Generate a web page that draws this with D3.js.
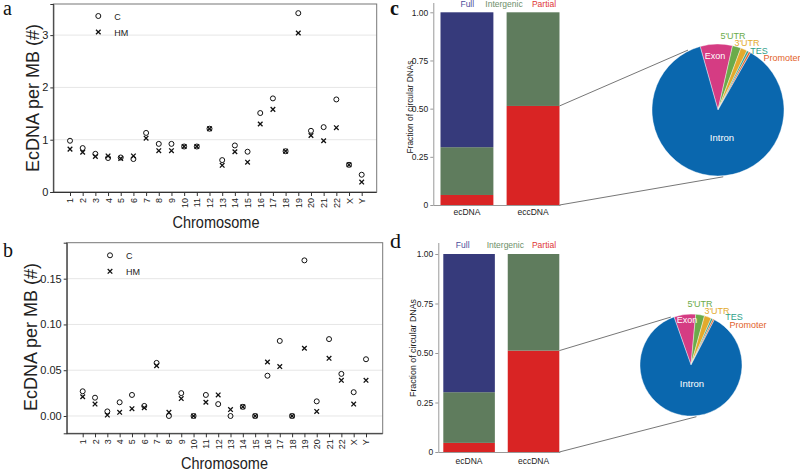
<!DOCTYPE html>
<html>
<head>
<meta charset="utf-8">
<script src="https://cdn.jsdelivr.net/npm/d3@7"></script>
<style>
  body { margin: 0; background: #fff; }
  svg { display: block; font-family: "Liberation Sans", Arial, sans-serif; }
</style>
</head>
<body>
<svg id="fig" width="800" height="471"></svg>
<script>
// ---- data ----
const chromosomes = ['1','2','3','4','5','6','7','8','9','10','11','12','13','14','15','16','17','18','19','20','21','22','X','Y'];

// panel a
const aC  = [0.98,0.84,0.73,0.65,0.66,0.63,1.13,0.92,0.92,0.87,0.87,1.21,0.61,0.89,0.77,1.51,1.79,0.78,3.42,1.17,1.24,1.77,0.52,0.33];
const aHM = [0.82,0.76,0.68,0.69,0.64,0.69,1.03,0.79,0.79,0.87,0.87,1.21,0.51,0.77,0.57,1.30,1.58,0.78,3.04,1.08,0.98,1.23,0.52,0.19];
const aTicks = [0, 1, 2, 3];

// panel b
const bC  = [0.027,0.020,0.005,0.015,0.023,0.011,0.058,0.000,0.025,0.000,0.023,0.013,0.000,0.010,0.000,0.044,0.082,0.000,0.170,0.016,0.084,0.046,0.026,0.062];
const bHM = [0.021,0.013,0.001,0.004,0.008,0.009,0.055,0.004,0.019,0.000,0.015,0.023,0.007,0.010,0.000,0.059,0.054,0.000,0.074,0.005,0.063,0.039,0.013,0.039];
const bTicks = [0, 0.05, 0.10, 0.15];

// panels c / d stacked bars
const barCats = ['ecDNA', 'eccDNA'];
const barKeys = ['Partial', 'Intergenic', 'Full'];
const cPartial = [0.052, 0.514], cIntergenic = [0.248, 0.486], cFull = [0.700, 0];
const dPartial = [0.046, 0.512], dIntergenic = [0.256, 0.488], dFull = [0.698, 0];
const fracTicks = [0, 0.25, 0.5, 0.75, 1];

// pies (percent of partial eccDNA)
const pieLabels = ['Exon', "5'UTR", "3'UTR", 'TES', 'Promoter', 'Intron'];
const cPie = [7.9, 2.1, 1.6, 0.5, 0.5, 87.4];
const dPie = [6.9, 2.8, 2.2, 0.6, 0.5, 87.0];

// ---- styles ----
const barColor = {Partial: '#d92424', Intergenic: '#5f7c5d', Full: '#363a7b'};
const barLabelColor = {Partial: '#e03535', Intergenic: '#6d8f6a', Full: '#4a4d9a'};
const pieColor = {'Exon': '#d53c83', "5'UTR": '#6bab4a', "3'UTR": '#e3aa2c', 'TES': '#2e9f88', 'Promoter': '#e2612a', 'Intron': '#0a67ae'};

const svg = d3.select('#fig');

// panel letters
[['a', 3, 15, 'normal', 20], ['b', 3, 257, 'normal', 20], ['c', 390, 15, 'bold', 20], ['d', 390, 248, 'normal', 22]]
  .forEach(([t, x, y, w, s]) => {
    svg.append('text').attr('x', x).attr('y', y).text(t)
      .attr('font-family', '"Liberation Serif", "Times New Roman", serif')
      .attr('font-weight', w).attr('font-size', s).attr('fill', '#111');
  });

function scatterPanel(cfg) {
  const g = svg.append('g');
  const x = d3.scalePoint().domain(chromosomes).range([cfg.x0, cfg.x1]);
  const y = d3.scaleLinear().domain(cfg.yDomain).range([cfg.bottom, cfg.top]);

  // gridlines
  g.selectAll('.grid').data(cfg.ticks).enter().append('line')
    .attr('x1', cfg.left).attr('x2', cfg.right)
    .attr('y1', d => y(d)).attr('y2', d => y(d))
    .attr('stroke', '#e6e6e6').attr('stroke-width', 1);

  // frame
  g.append('rect').attr('x', cfg.left).attr('y', cfg.top)
    .attr('width', cfg.right - cfg.left).attr('height', cfg.bottom - cfg.top)
    .attr('fill', 'none').attr('stroke', '#777').attr('stroke-width', 1);

  // axes
  const yAxis = g.append('g').attr('transform', `translate(${cfg.left},0)`)
    .call(d3.axisLeft(y).tickValues(cfg.ticks).tickFormat(cfg.fmt).tickSize(3).tickPadding(2));
  yAxis.select('.domain').attr('stroke', '#333');
  yAxis.selectAll('.tick line').attr('stroke', '#333');
  yAxis.selectAll('text').attr('font-size', 11).attr('fill', '#222')
    .attr('font-family', '"Liberation Sans", Arial, sans-serif');

  const xAxis = g.append('g').attr('transform', `translate(0,${cfg.bottom})`)
    .call(d3.axisBottom(x).tickSize(4).tickSizeOuter(0));
  xAxis.select('.domain').attr('stroke', '#333').attr('d', `M${cfg.left},0.5H${cfg.right}`);
  xAxis.selectAll('.tick line').attr('stroke', '#333');
  xAxis.selectAll('text')
    .attr('font-size', 9).attr('fill', '#222')
    .attr('font-family', '"Liberation Sans", Arial, sans-serif')
    .attr('transform', 'rotate(-90)')
    .attr('text-anchor', 'end').attr('x', -6).attr('y', 0).attr('dy', '0.33em');

  // points
  g.selectAll('.c').data(cfg.C).enter().append('circle')
    .attr('cx', (d, i) => x(chromosomes[i])).attr('cy', d => y(d))
    .attr('r', 2.5).attr('fill', 'none').attr('stroke', '#111').attr('stroke-width', 1);
  const s = 2.3;
  g.selectAll('.hm').data(cfg.HM).enter().append('path')
    .attr('d', (d, i) => {
      const cx = x(chromosomes[i]), cy = y(d);
      return `M${cx - s},${cy - s}L${cx + s},${cy + s}M${cx - s},${cy + s}L${cx + s},${cy - s}`;
    })
    .attr('stroke', '#111').attr('stroke-width', 1.3).attr('fill', 'none');

  // legend
  const lg = g.append('g');
  lg.append('circle').attr('cx', cfg.leg[0]).attr('cy', cfg.leg[1])
    .attr('r', 2.5).attr('fill', 'none').attr('stroke', '#111');
  lg.append('path')
    .attr('d', `M${cfg.leg[0] - s},${cfg.leg[1] + 16 - s}L${cfg.leg[0] + s},${cfg.leg[1] + 16 + s}M${cfg.leg[0] - s},${cfg.leg[1] + 16 + s}L${cfg.leg[0] + s},${cfg.leg[1] + 16 - s}`)
    .attr('stroke', '#111').attr('stroke-width', 1.3);
  lg.append('text').attr('x', cfg.leg[0] + 16).attr('y', cfg.leg[1] + 3.5).text('C')
    .attr('font-size', 9).attr('fill', '#222');
  lg.append('text').attr('x', cfg.leg[0] + 16).attr('y', cfg.leg[1] + 19.5).text('HM')
    .attr('font-size', 9).attr('fill', '#222');

  // titles
  g.append('text')
    .attr('transform', `translate(${cfg.yTitle[0]},${cfg.yTitle[1]}) rotate(-90)`)
    .attr('text-anchor', 'middle').attr('font-size', 18).attr('fill', '#222')
    .text('EcDNA per MB (#)');
  g.append('text').attr('x', cfg.xTitle[0]).attr('y', cfg.xTitle[1])
    .attr('text-anchor', 'middle').attr('font-size', 17).attr('fill', '#222')
    .attr('textLength', 87).attr('lengthAdjust', 'spacingAndGlyphs')
    .text('Chromosome');
}

scatterPanel({
  left: 53.3, right: 376.7, top: 4, bottom: 192,
  x0: 70, x1: 361.7, yDomain: [0, 3.595], ticks: aTicks, fmt: d3.format('d'),
  C: aC, HM: aHM, leg: [98.3, 16], yTitle: [39, 98], xTitle: [216, 228]
});

scatterPanel({
  left: 66.7, right: 382.7, top: 242.7, bottom: 433.3,
  x0: 82.7, x1: 366, yDomain: [-0.0189, 0.1893], ticks: bTicks, fmt: d3.format('.2f'),
  C: bC, HM: bHM, leg: [110, 255.3], yTitle: [37, 337], xTitle: [224.5, 469]
});

function barPanel(cfg) {
  const g = svg.append('g');
  const rows = barCats.map((c, i) => ({cat: c, Partial: cfg.partial[i], Intergenic: cfg.intergenic[i], Full: cfg.full[i]}));
  const stacked = d3.stack().keys(barKeys)(rows);
  const x = d3.scaleBand().domain(barCats).range([cfg.x0, cfg.x1]).paddingInner(0.2).paddingOuter(0);
  const y = d3.scaleLinear().domain([0, 1]).range([cfg.bottom, cfg.top]);

  g.selectAll('.layer').data(stacked).enter().append('g')
    .attr('fill', d => barColor[d.key])
    .selectAll('rect').data(d => d).enter().append('rect')
    .attr('x', d => x(d.data.cat)).attr('width', x.bandwidth())
    .attr('y', d => y(d[1])).attr('height', d => y(d[0]) - y(d[1]));

  // axis
  const yAxis = g.append('g').attr('transform', `translate(${cfg.axisX},0)`)
    .call(d3.axisLeft(y).tickValues(fracTicks).tickFormat(d => d === 0 ? '0' : d3.format('.2f')(d)).tickSize(3).tickSizeOuter(0).tickPadding(2));
  yAxis.select('.domain').attr('stroke', '#999').attr('d', `M0.5,${cfg.axisTop}V${cfg.bottom}`);
  yAxis.selectAll('.tick line').attr('stroke', '#999');
  yAxis.selectAll('text').attr('font-size', 8.5).attr('fill', '#222');
  g.append('line').attr('x1', cfg.axisX).attr('x2', cfg.x1 + 1)
    .attr('y1', cfg.bottom + 0.5).attr('y2', cfg.bottom + 0.5).attr('stroke', '#999');

  g.selectAll('.cat').data(barCats).enter().append('text')
    .attr('x', d => x(d) + x.bandwidth() / 2).attr('y', cfg.catY)
    .attr('text-anchor', 'middle').attr('font-size', 8.5).attr('fill', '#222').text(d => d);

  // top key labels
  g.selectAll('.key').data(['Full', 'Intergenic', 'Partial']).enter().append('text')
    .attr('x', (d, i) => cfg.keyX[i]).attr('y', cfg.keyY)
    .attr('text-anchor', 'middle').attr('font-size', 8.5)
    .attr('fill', d => barLabelColor[d]).text(d => d);

  g.append('text')
    .attr('transform', `translate(${cfg.yTitle[0]},${cfg.yTitle[1]}) rotate(-90)`)
    .attr('text-anchor', 'middle').attr('font-size', 9).attr('fill', '#222')
    .attr('textLength', cfg.yTitle[2]).attr('lengthAdjust', 'spacingAndGlyphs')
    .text('Fraction of circular DNAs');

  return {x, y};
}

function piePanel(cfg, bars) {
  const g = svg.append('g').attr('transform', `translate(${cfg.cx},${cfg.cy})`);
  const a0 = cfg.start * Math.PI / 180;
  const arcs = d3.pie().sort(null).startAngle(a0).endAngle(a0 + 2 * Math.PI)(cfg.values);
  const arc = d3.arc().innerRadius(0).outerRadius(cfg.r);

  // connector lines from eccDNA partial segment to the pie
  const bx = bars.x('eccDNA') + bars.x.bandwidth();
  const conn = [[cfg.partialTop, cfg.upAngle], [0, cfg.lowAngle]];
  conn.forEach(([v, ang]) => {
    const t = ang * Math.PI / 180;
    svg.append('line')
      .attr('x1', bx).attr('y1', bars.y(v))
      .attr('x2', cfg.cx + (cfg.r + 1) * Math.sin(t)).attr('y2', cfg.cy - (cfg.r + 1) * Math.cos(t))
      .attr('stroke', '#777').attr('stroke-width', 1);
  });

  g.selectAll('path').data(arcs).enter().append('path')
    .attr('d', arc).attr('fill', (d, i) => pieColor[pieLabels[i]])
    .attr('stroke', '#fff').attr('stroke-width', 0.4);

  g.selectAll('.lbl').data(pieLabels).enter().append('text')
    .attr('x', (d, i) => cfg.labelPos[i][0]).attr('y', (d, i) => cfg.labelPos[i][1])
    .attr('text-anchor', 'middle').attr('dy', '0.35em')
    .attr('font-size', (d) => d === 'Intron' ? 9.5 : 9)
    .attr('fill', d => (d === 'Exon' || d === 'Intron') ? '#fff' : pieColor[d])
    .text(d => d);
}

const cBars = barPanel({
  partial: cPartial, intergenic: cIntergenic, full: cFull,
  x0: 440.5, x1: 559.5, top: 12.3, bottom: 205, axisX: 433.3, axisTop: 3,
  catY: 215, keyX: [467.3, 504, 544], keyY: 7, yTitle: [413, 107, 93]
});
piePanel({
  values: cPie, cx: 718, cy: 110, r: 66, start: -15.7,
  partialTop: cPartial[1], upAngle: -26.6, lowAngle: 175.5,
  labelPos: [[-3, -54], [15, -74], [29, -67], [41, -59], [64, -52], [4, 28]]
}, cBars);

const dBars = barPanel({
  partial: dPartial, intergenic: dIntergenic, full: dFull,
  x0: 443.3, x1: 559.3, top: 254, bottom: 452, axisX: 438.3, axisTop: 243,
  catY: 463.5, keyX: [462.7, 505.3, 544], keyY: 247.5, yTitle: [416, 348, 98]
});
piePanel({
  values: dPie, cx: 691, cy: 365, r: 51, start: -19.5,
  partialTop: dPartial[1], upAngle: -22.8, lowAngle: 174,
  labelPos: [[-4, -45], [9, -61], [26, -54], [43, -48], [57, -40], [1, 19]]
}, dBars);
</script>
</body>
</html>
